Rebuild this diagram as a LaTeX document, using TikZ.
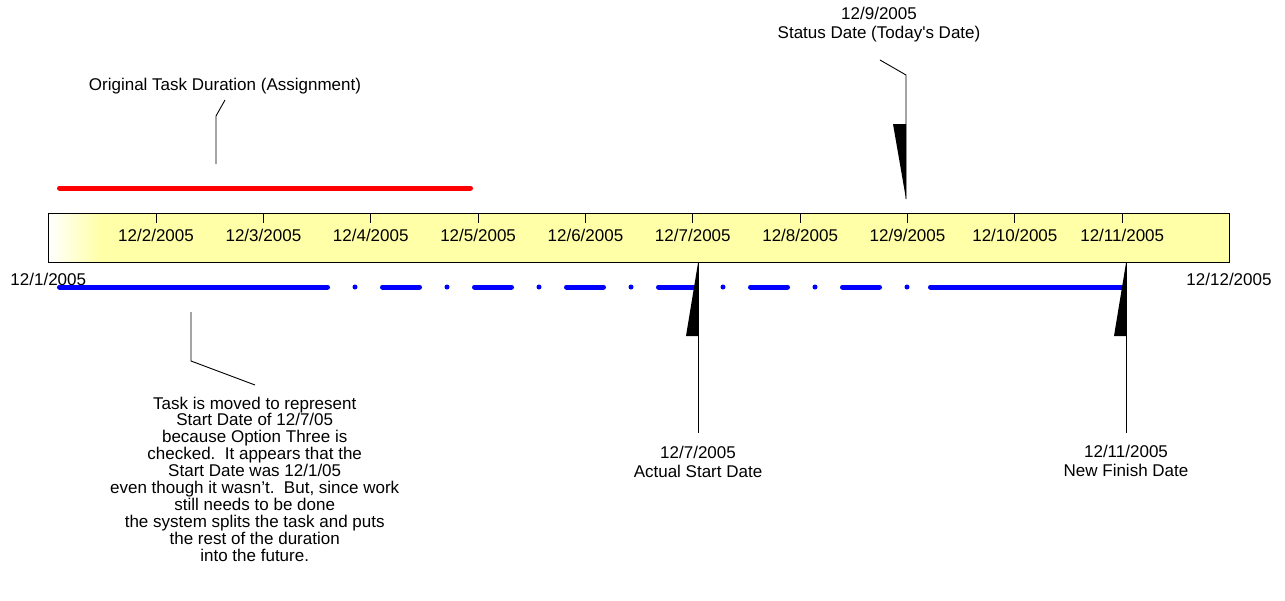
\documentclass[tikz,border=0pt]{standalone}
\usepackage{fontspec}
\setmainfont{Liberation Sans}
\definecolor{baryellow}{RGB}{255,255,168}
\definecolor{taskred}{RGB}{255,0,0}
\definecolor{taskblue}{RGB}{0,0,255}
\begin{document}
\begin{tikzpicture}[x=1pt,y=-1pt,
  font=\fontsize{17}{16.9}\selectfont,
  lbl/.style={inner sep=0pt, anchor=base},
  twoline/.style={inner sep=0pt, align=center, font=\fontsize{17}{19.5}\selectfont},
  callout/.style={draw=black, line width=0.9pt},
  wedge/.style={fill=black},
  taskline/.style={line width=5pt, line cap=round},
  tickmark/.style={draw=black, line width=0.9pt}]
\useasboundingbox (0,0) rectangle (1285,600);

% timeline bar
\fill[baryellow] (48,213) rectangle (1229,262);
\shade[left color=white, right color=baryellow] (48,213) rectangle (100,262);
\node[draw=black, line width=1.2pt, minimum width=1181pt, minimum height=49pt, inner sep=0pt, anchor=north west] (bar) at (48,213) {};

% ticks and labels
\foreach \i in {1,...,10} {
  \pgfmathsetmacro{\xx}{48.7+\i*107.35}
  \pgfmathtruncatemacro{\dd}{\i+1}
  \coordinate (tk\i) at (\xx,213);
  \draw[tickmark] (tk\i) -- ++(0,10);
  \node[lbl] (tl\i) at (\xx,241) {12/\dd/2005};
}
\node[lbl] (start) at (48.3,285) {12/1/2005};
\node[lbl] (end) at (1229,285) {12/12/2005};

% original task (red)
\coordinate (r1) at (59.5,188);
\coordinate (r2) at (470.5,188);
\draw[taskline, taskred] (r1) -- (r2);

% moved task (blue, split)
\coordinate (b1) at (59.5,287);
\coordinate (b2) at (327.5,287);
\coordinate (b3) at (355,287);
\coordinate (b4) at (908,287);
\coordinate (b5) at (930.5,287);
\coordinate (b6) at (1124.5,287);
\draw[taskline, taskblue] (b1) -- (b2);
\draw[taskline, taskblue, dash pattern=on 0pt off 27.5pt on 37pt off 27.5pt] (b3) -- (b4);
\draw[taskline, taskblue] (b5) -- (b6);

% Original task callout
\node[lbl] (orig) at (225,90) {Original Task Duration (Assignment)};
\coordinate (oc1) at (225,100);
\coordinate (oc2) at (216,116);
\coordinate (oc3) at (216,164);
\draw[callout] (oc1) -- (oc2) -- (oc3);

% Status date callout
\node[twoline] (stat) at (879,24.5) {12/9/2005\\Status Date (Today\textquotesingle s Date)};
\coordinate (sc1) at (880,60);
\coordinate (sc2) at (906,75);
\coordinate (sc3) at (906,199);
\fill[wedge] (893,124) -- (906,124) -- (sc3) -- cycle;
\draw[callout] (sc1) -- (sc2) -- (sc3);

% Actual start callout
\node[twoline] (act) at (698,461.7) {12/7/2005\\Actual Start Date};
\coordinate (ac1) at (698,263);
\coordinate (ac2) at (698,433);
\fill[wedge] (ac1) -- (698,336) -- (686,336) -- cycle;
\draw[callout] (ac1) -- (ac2);

% New finish callout
\node[twoline] (fin) at (1126,460.7) {12/11/2005\\New Finish Date};
\coordinate (fc1) at (1126,263);
\coordinate (fc2) at (1126,433);
\fill[wedge] (fc1) -- (1126,336) -- (1114,336) -- cycle;
\draw[callout] (fc1) -- (fc2);

% Task explanation callout
\node[inner sep=0pt, align=center] (expl) at (254.7,479) {Task is moved to represent\\
Start Date of 12/7/05\\
because Option Three is\\
checked.\ \ It appears that the\\
Start Date was 12/1/05\\
even though it wasn’t.\ \ But, since work\\
still needs to be done\\
the system splits the task and puts\\
the rest of the duration\\
into the future.};
\coordinate (ec1) at (191,312);
\coordinate (ec2) at (191,361);
\coordinate (ec3) at (255,385);
\draw[callout] (ec1) -- (ec2) -- (ec3);
\end{tikzpicture}
\end{document}
